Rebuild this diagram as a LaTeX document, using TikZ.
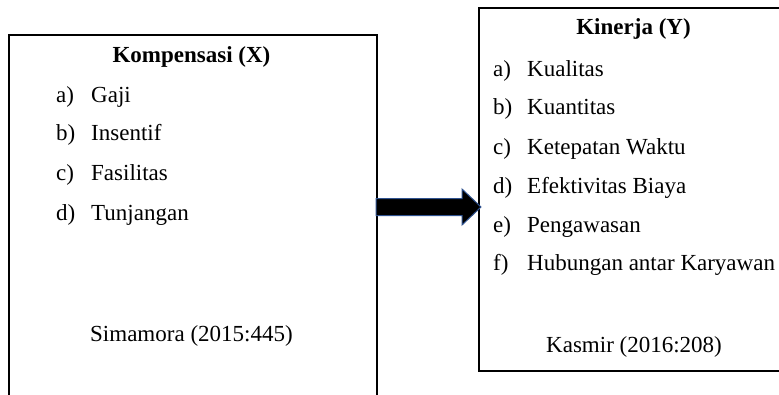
\documentclass[tikz,border=0pt]{standalone}
\usepackage{fontspec}
\setmainfont{Liberation Serif}
\definecolor{arrowedge}{HTML}{2F528F}
\begin{document}
\begin{tikzpicture}[x=1pt,y=-1pt,
  txt/.style={anchor=base west,inner sep=0pt,font=\fontsize{23}{26}\selectfont},
  ttl/.style={anchor=base,inner sep=0pt,font=\fontsize{23}{26}\selectfont\bfseries},
  frame/.style={draw=black,line width=1.4pt,inner sep=0pt},
  blockarrow/.style={fill=black,draw=arrowedge,line width=1pt,line join=miter}]
\useasboundingbox (0,0) rectangle (779,394);
\clip (0,0) rectangle (779,394);
% boxes
\node[frame,minimum width=368pt,minimum height=400pt] (boxX) at (193,235) {};
\node[frame,minimum width=330pt,minimum height=363pt] (boxY) at (644,189.5) {};
% arrow
\coordinate (atail) at (376,207);
\coordinate (atip) at (481,207);
\draw[blockarrow] (atail) ++(0,-8.5) -- ++(86,0) -- ++(0,-9.5) -- (atip)
  -- ++(-19,18) -- ++(0,-9.5) -- ++(-86,0) -- cycle;
% left texts
\node[ttl] (tx) at (191.5,62) {Kompensasi (X)};
\node[txt] (xa) at (56,102) {a)};   \node[txt] (xat) at (91,102) {Gaji};
\node[txt] (xb) at (56,140) {b)};   \node[txt] (xbt) at (91,140) {Insentif};
\node[txt] (xc) at (56,180) {c)};   \node[txt] (xct) at (91,180) {Fasilitas};
\node[txt] (xd) at (56,220) {d)};   \node[txt] (xdt) at (91,220) {Tunjangan};
\node[txt] (xs) at (90,341) {Simamora (2015:445)};
% right texts
\node[ttl] (ty) at (633.5,34) {Kinerja (Y)};
\node[txt] (ya) at (493,76) {a)};  \node[txt] (yat) at (527,76) {Kualitas};
\node[txt] (yb) at (493,114) {b)}; \node[txt] (ybt) at (527,114) {Kuantitas};
\node[txt] (yc) at (493,154) {c)}; \node[txt] (yct) at (527,154) {Ketepatan Waktu};
\node[txt] (yd) at (493,193) {d)}; \node[txt] (ydt) at (527,193) {Efektivitas Biaya};
\node[txt] (ye) at (493,232) {e)}; \node[txt] (yet) at (527,232) {Pengawasan};
\node[txt] (yf) at (493,270) {f)}; \node[txt] (yft) at (527,270) {Hubungan antar Karyawan};
\node[txt] (ys) at (546,352) {Kasmir (2016:208)};
\end{tikzpicture}
\end{document}
